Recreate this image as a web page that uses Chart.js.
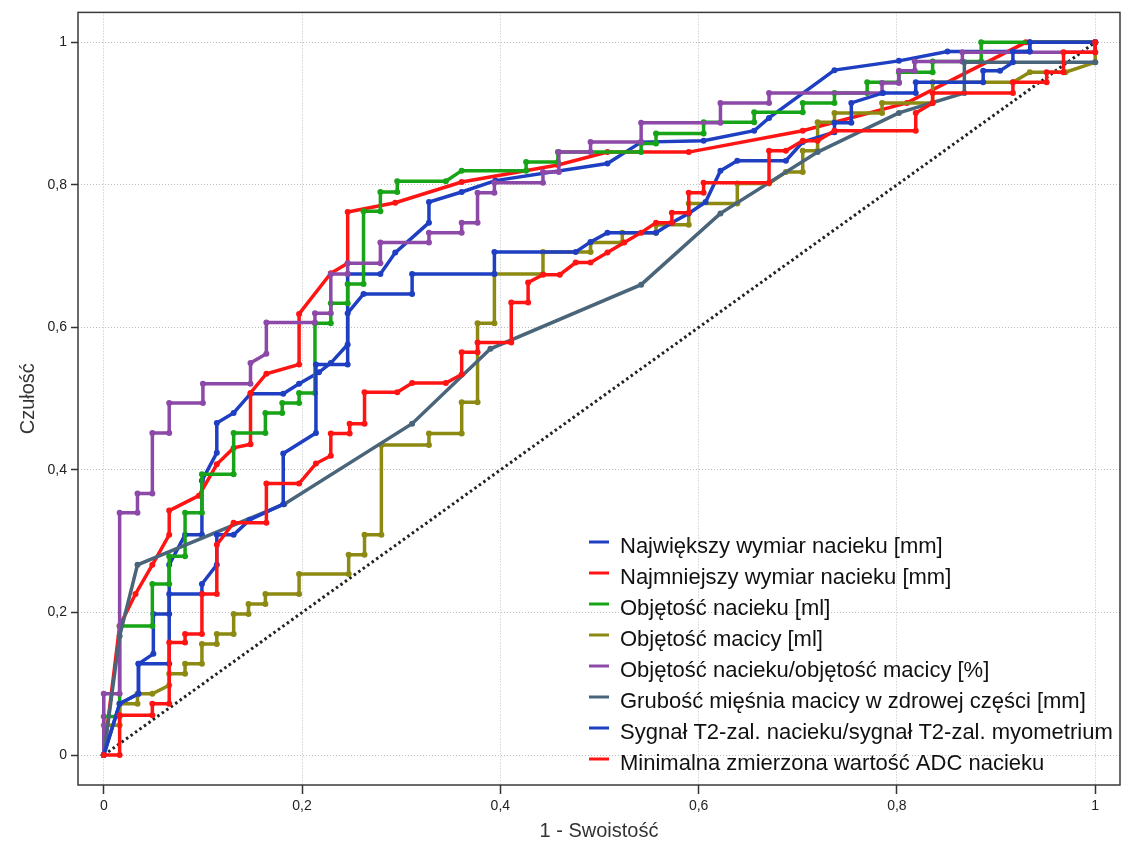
<!DOCTYPE html>
<html>
<head>
<meta charset="utf-8">
<script src="https://cdn.jsdelivr.net/npm/chart.js@4.4.0/dist/chart.umd.min.js"></script>
<style>
  html, body { margin: 0; padding: 0; background: #fff; }
</style>
</head>
<body>
<canvas id="roc" width="1124" height="845"></canvas>
<script>
// ticks shared by both axes
const osieTicki = [0, 0.2, 0.4, 0.6, 0.8, 1];

const nazwySerii = [
    "Największy wymiar nacieku [mm]",
    "Najmniejszy wymiar nacieku [mm]",
    "Objętość nacieku [ml]",
    "Objętość macicy [ml]",
    "Objętość nacieku/objętość macicy [%]",
    "Grubość mięśnia macicy w zdrowej części [mm]",
    "Sygnał T2-zal. nacieku/sygnał T2-zal. myometrium",
    "Minimalna zmierzona wartość ADC nacieku"
];

// [1 - swoistość, czułość]
const najwiekszy = [[0,0],[0.016,0.072],[0.035,0.086],[0.035,0.128],[0.05,0.142],[0.05,0.198],[0.066,0.198],[0.066,0.267],[0.082,0.309],[0.099,0.309],[0.099,0.385],[0.114,0.424],[0.114,0.466],[0.131,0.48],[0.148,0.507],[0.181,0.507],[0.197,0.521],[0.217,0.537],[0.229,0.55],[0.246,0.576],[0.246,0.675],[0.279,0.675],[0.294,0.705],[0.328,0.747],[0.328,0.776],[0.361,0.79],[0.395,0.806],[0.508,0.83],[0.542,0.86],[0.605,0.862],[0.656,0.876],[0.671,0.894],[0.737,0.961],[0.802,0.974],[0.851,0.987],[0.934,0.987],[0.934,1],[1,1]];

const najmniejszy = [[0,0],[0.016,0.181],[0.032,0.226],[0.049,0.267],[0.066,0.309],[0.066,0.343],[0.096,0.364],[0.114,0.408],[0.131,0.431],[0.148,0.436],[0.148,0.508],[0.164,0.535],[0.197,0.548],[0.197,0.619],[0.229,0.676],[0.246,0.69],[0.246,0.762],[0.294,0.775],[0.361,0.804],[0.458,0.828],[0.508,0.846],[0.59,0.846],[0.705,0.876],[0.81,0.915],[0.93,1],[1,1]];

const objNacieku = [[0,0],[0,0.054],[0.016,0.054],[0.016,0.181],[0.049,0.181],[0.049,0.24],[0.066,0.24],[0.066,0.279],[0.082,0.279],[0.082,0.34],[0.099,0.34],[0.099,0.394],[0.131,0.394],[0.131,0.452],[0.163,0.452],[0.163,0.48],[0.18,0.48],[0.18,0.494],[0.197,0.494],[0.197,0.508],[0.213,0.508],[0.213,0.606],[0.229,0.606],[0.229,0.634],[0.246,0.634],[0.246,0.661],[0.262,0.661],[0.262,0.763],[0.279,0.763],[0.279,0.79],[0.296,0.79],[0.296,0.805],[0.345,0.805],[0.361,0.82],[0.426,0.82],[0.426,0.832],[0.458,0.832],[0.458,0.846],[0.542,0.846],[0.542,0.858],[0.557,0.858],[0.557,0.872],[0.605,0.872],[0.605,0.888],[0.656,0.888],[0.656,0.902],[0.705,0.902],[0.705,0.915],[0.737,0.915],[0.737,0.929],[0.77,0.929],[0.77,0.944],[0.802,0.944],[0.802,0.958],[0.836,0.958],[0.836,0.973],[0.885,0.973],[0.885,1],[1,1]];

const objMacicy = [[0,0],[0,0.042],[0.016,0.042],[0.016,0.072],[0.034,0.072],[0.034,0.086],[0.049,0.086],[0.066,0.098],[0.066,0.114],[0.082,0.114],[0.082,0.128],[0.099,0.128],[0.099,0.156],[0.114,0.156],[0.114,0.17],[0.131,0.17],[0.131,0.198],[0.146,0.198],[0.146,0.212],[0.163,0.212],[0.163,0.226],[0.197,0.226],[0.197,0.254],[0.247,0.254],[0.247,0.281],[0.263,0.281],[0.263,0.309],[0.28,0.309],[0.28,0.435],[0.328,0.435],[0.328,0.451],[0.361,0.451],[0.361,0.495],[0.377,0.495],[0.377,0.606],[0.394,0.606],[0.394,0.675],[0.443,0.675],[0.443,0.706],[0.491,0.706],[0.491,0.719],[0.523,0.719],[0.523,0.733],[0.557,0.733],[0.557,0.744],[0.59,0.744],[0.59,0.774],[0.639,0.774],[0.639,0.802],[0.671,0.802],[0.688,0.818],[0.705,0.818],[0.705,0.848],[0.72,0.848],[0.72,0.888],[0.737,0.888],[0.737,0.901],[0.785,0.901],[0.785,0.915],[0.836,0.915],[0.836,0.944],[0.917,0.944],[0.934,0.958],[0.97,0.958],[1,0.972],[1,1]];

const objProcent = [[0,0],[0,0.086],[0.016,0.086],[0.016,0.34],[0.034,0.34],[0.034,0.367],[0.049,0.367],[0.049,0.452],[0.066,0.452],[0.066,0.494],[0.1,0.494],[0.1,0.521],[0.148,0.521],[0.148,0.55],[0.164,0.563],[0.164,0.607],[0.213,0.607],[0.213,0.62],[0.229,0.62],[0.229,0.675],[0.246,0.675],[0.246,0.69],[0.279,0.69],[0.279,0.719],[0.328,0.719],[0.328,0.733],[0.361,0.733],[0.361,0.747],[0.377,0.747],[0.377,0.789],[0.394,0.789],[0.394,0.803],[0.443,0.803],[0.443,0.818],[0.459,0.818],[0.459,0.846],[0.491,0.846],[0.491,0.86],[0.542,0.86],[0.542,0.887],[0.622,0.887],[0.622,0.915],[0.671,0.915],[0.671,0.929],[0.785,0.929],[0.785,0.943],[0.802,0.943],[0.802,0.96],[0.818,0.96],[0.818,0.973],[0.866,0.973],[0.866,0.986],[1,0.986],[1,1]];

const grubosc = [[0,0],[0.016,0.167],[0.034,0.267],[0.182,0.352],[0.311,0.465],[0.39,0.57],[0.542,0.66],[0.622,0.76],[0.72,0.846],[0.802,0.901],[0.868,0.929],[0.868,0.972],[1,0.972]];

const sygnalT2 = [[0,0],[0.016,0.072],[0.035,0.086],[0.035,0.128],[0.066,0.128],[0.066,0.226],[0.099,0.226],[0.099,0.24],[0.114,0.267],[0.114,0.309],[0.131,0.309],[0.147,0.33],[0.181,0.352],[0.181,0.423],[0.214,0.452],[0.214,0.548],[0.246,0.548],[0.246,0.62],[0.262,0.647],[0.311,0.647],[0.311,0.675],[0.394,0.675],[0.394,0.706],[0.476,0.706],[0.491,0.72],[0.508,0.733],[0.557,0.733],[0.573,0.747],[0.59,0.76],[0.607,0.776],[0.622,0.82],[0.639,0.834],[0.688,0.834],[0.705,0.86],[0.737,0.874],[0.737,0.887],[0.754,0.887],[0.754,0.915],[0.786,0.929],[0.819,0.929],[0.819,0.944],[0.887,0.944],[0.887,0.96],[0.904,0.96],[0.917,0.972],[0.917,0.987],[0.934,0.987],[0.934,1],[1,1]];

const adc = [[0,0],[0.016,0],[0.016,0.056],[0.049,0.056],[0.049,0.072],[0.066,0.072],[0.066,0.158],[0.082,0.158],[0.082,0.17],[0.099,0.17],[0.099,0.226],[0.114,0.226],[0.114,0.295],[0.131,0.326],[0.164,0.326],[0.164,0.381],[0.197,0.381],[0.214,0.409],[0.229,0.42],[0.229,0.451],[0.248,0.451],[0.248,0.465],[0.263,0.465],[0.263,0.509],[0.296,0.509],[0.311,0.522],[0.345,0.522],[0.361,0.534],[0.361,0.565],[0.377,0.565],[0.377,0.579],[0.411,0.579],[0.411,0.635],[0.428,0.635],[0.428,0.663],[0.443,0.674],[0.46,0.674],[0.476,0.691],[0.491,0.691],[0.508,0.705],[0.525,0.719],[0.542,0.733],[0.557,0.747],[0.573,0.747],[0.573,0.761],[0.59,0.761],[0.59,0.789],[0.605,0.789],[0.605,0.803],[0.671,0.803],[0.671,0.848],[0.688,0.848],[0.705,0.862],[0.72,0.862],[0.737,0.876],[0.819,0.876],[0.819,0.901],[0.836,0.915],[0.836,0.929],[0.917,0.929],[0.917,0.944],[0.951,0.944],[0.951,0.958],[0.968,0.958],[0.968,0.986],[1,0.986],[1,1]];

const przekatna = [[0,0],[1,1]];

const serie = [najwiekszy, najmniejszy, objNacieku, objMacicy, objProcent, grubosc, sygnalT2, adc];
const kolory = ["#1e3fc2", "#ff1414", "#17a417", "#8c8a12", "#8d49a8", "#4a6579", "#1e3fc2", "#ff1414"];

const toXY = arr => arr.map(p => ({x: p[0], y: p[1]}));

let datasets = serie.map(function (s, i) {
    return {
        label: nazwySerii[i],
        data: toXY(s),
        borderColor: kolory[i],
        backgroundColor: kolory[i],
        borderWidth: 3.5,
        pointRadius: 3,
        pointBorderWidth: 0,
        pointBackgroundColor: kolory[i],
        tension: 0,
        order: 8 - i
    };
});

datasets.push({
    label: "diag",
    data: toXY(przekatna),
    borderColor: "#222",
    borderWidth: 3,
    borderDash: [2.5, 3],
    pointRadius: 0,
    order: 20
});

const fmt = v => String(v).replace(".", ",");

// box around the plot
const ramka = {
    id: "ramka",
    afterDraw(chart) {
        const a = chart.chartArea, ctx = chart.ctx;
        ctx.save();
        ctx.strokeStyle = "#3a3a3a";
        ctx.lineWidth = 1.5;
        ctx.strokeRect(a.left, a.top, a.right - a.left, a.bottom - a.top);
        ctx.restore();
    }
};

// legend drawn inside plot, bottom right
const legenda = {
    id: "legenda",
    afterDraw(chart) {
        const ctx = chart.ctx;
        ctx.save();
        ctx.font = "22px 'Liberation Sans', Arial, sans-serif";
        ctx.textBaseline = "middle";
        ctx.fillStyle = "#111";
        for (let i = 0; i < nazwySerii.length; i++) {
            let y = 547 + i * 31;
            ctx.strokeStyle = kolory[i];
            ctx.lineWidth = 3;
            ctx.beginPath();
            ctx.moveTo(589, y - 5);
            ctx.lineTo(609, y - 5);
            ctx.stroke();
            ctx.fillText(nazwySerii[i], 620, y);
        }
        ctx.restore();
    }
};

Chart.defaults.font.family = "'Liberation Sans', Arial, sans-serif";
Chart.defaults.color = "#222";

new Chart(document.getElementById("roc").getContext("2d"), {
    type: "line",
    data: { datasets: datasets },
    options: {
        responsive: false,
        animation: false,
        events: [],
        layout: { padding: { top: 8, right: 2, left: 0, bottom: 0 } },
        plugins: {
            legend: { display: false },
            tooltip: { enabled: false }
        },
        scales: {
            x: {
                type: "linear",
                min: -0.026,
                max: 1.025,
                afterBuildTicks: s => { s.ticks = osieTicki.map(v => ({value: v})); },
                afterFit: s => { s.height = 60; },
                ticks: { callback: fmt, font: { size: 14 }, padding: 4, maxRotation: 0 },
                grid: { color: "#bdbdbd", lineWidth: 1, tickColor: "#333", tickLength: 9, tickWidth: 1.5, tickBorderDash: [] },
                border: { display: false, dash: [1, 2] },
                title: { display: true, text: "1 - Swoistość", font: { size: 20 }, color: "#333", padding: { top: 0, bottom: 2 } }
            },
            y: {
                type: "linear",
                min: -0.042,
                max: 1.042,
                afterBuildTicks: s => { s.ticks = osieTicki.map(v => ({value: v})); },
                afterFit: s => { s.width = 78; },
                ticks: { callback: fmt, font: { size: 14 }, padding: 4 },
                grid: { color: "#bdbdbd", lineWidth: 1, tickColor: "#333", tickLength: 7, tickWidth: 1.5, tickBorderDash: [] },
                border: { display: false, dash: [1, 2] },
                title: { display: true, text: "Czułość", font: { size: 20 }, color: "#333", padding: { top: 16, bottom: 0 } }
            }
        }
    },
    plugins: [ramka, legenda]
});
</script>
</body>
</html>
